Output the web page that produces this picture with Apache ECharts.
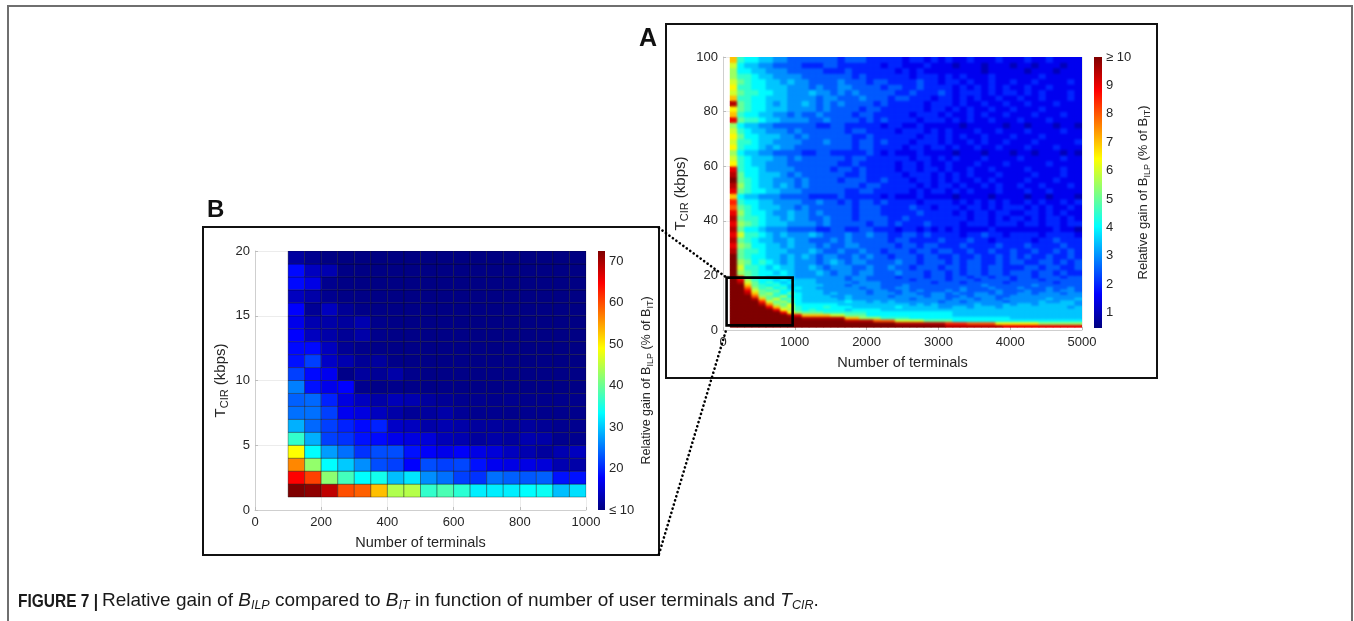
<!DOCTYPE html>
<html>
<head>
<meta charset="utf-8">
<script src="https://cdn.jsdelivr.net/npm/echarts@6/dist/echarts.min.js"></script>
<style>
  html, body { margin: 0; padding: 0; background: #ffffff; }
  #stage { position: relative; width: 1354px; height: 621px; }
  .layer { position: absolute; left: 0; top: 0; width: 1354px; height: 621px; }
  /* panel A uses interpolated shading: a softened copy of its cells sits over the plot area */
  #smoothClip { position: absolute; left: 730px; top: 57px; width: 352px; height: 270px; overflow: hidden; }
  #smooth { position: absolute; left: -730px; top: -57px; width: 1354px; height: 621px; filter: blur(1.2px); }
  #overlay { pointer-events: none; }
</style>
</head>
<body>
<div id="stage">
  <div id="chart" class="layer"></div>
  <div id="smoothClip"><div id="smooth"></div></div>
  <div id="overlay" class="layer"></div>
</div>
<script>
// ---------------------------------------------------------------------------
// Panel A: relative gain of B_ILP (% of B_IT), 100-5000 terminals, T_CIR 1-100 kbps
// Column edges (number of terminals) and row edges (T_CIR, kbps).
const aTerminalEdges = [100, 200, 300, 400, 500, 600, 700, 800, 900, 1000,
  1100, 1200, 1300, 1400, 1500, 1600, 1700, 1800, 1900, 2000,
  2100, 2200, 2300, 2400, 2500, 2600, 2700, 2800, 2900, 3000,
  3100, 3200, 3300, 3400, 3500, 3600, 3700, 3800, 3900, 4000,
  4100, 4200, 4300, 4400, 4500, 4600, 4700, 4800, 4900, 5000];
const aRateEdges = [1, 2, 3, 4, 5, 6, 7, 8, 9, 10, 11, 12, 13, 14, 15, 16, 17, 18, 19, 20,
  22, 24, 26, 28, 30, 32, 34, 36, 38, 40, 42, 44, 46, 48, 50, 52, 54, 56, 58, 60,
  62, 64, 66, 68, 70, 72, 74, 76, 78, 80, 82, 84, 86, 88, 90, 92, 94, 96, 98, 100];

// Gain levels: a = 0.5 %, b = 1 %, c = 1.5 % ... t = 10 % (shown as >= 10).
const GAIN_LEVELS = 'abcdefghijklmnopqrst';
// One string per T_CIR row, lowest row first; one letter per 100-terminal column.
const gainRowsA = [
  'tttttttttt tttttttttt tttttttttt ssssssssrr rrrrrrrrr', // 1-2
  'tttttttttt tttttttttt tttsssssss qqqppppmmm mmmkkkkkk', // 2-3
  'tttttttttt ttttttssss ppplllljjj jhhhhhhhhh hhhhhhhhh', // 3-4
  'tttttttttt ssssssnnkk kiiiihhhhh hhhhhhhhhg ggggggggg', // 4-5
  'ttttttttsr nnnnlljjjh hhhhhhhhhh hggggggggg ggggggggg', // 5-6
  'tttttttrmk jjjiiiiiih hhhhhhhhhh hggggggggg ggggggggg', // 6-7
  'ttttttrmki hihhhhghhh hggggggggg gggggggggg ggggggggg', // 7-8
  'tttttrnkli hhhihhhggg ggghgggggf fggfgggfgg gggggggfg', // 8-9
  'ttttsokjlh hhhhhggggg gggggfgfgf ffffgfffgf ggfgggggf', // 9-10
  'ttttqljkih gggggghggf gfgffffffe ffefffffef fffgffggf', // 10-11
  'tttsnjlijh gggggfgfff fffffeffff efffeffeff ffffgfffg', // 11-12
  'tttpkjikhh ggggffgfff ffeffffeff eefefffeef fffffffff', // 12-13
  'ttsnjkihjh gggfgffffe fffeffeeff efeeffefee ffefffeff', // 13-14
  'ttrljijhhg gggffffffe ffeefefeee fefeeeefee efeefeffe', // 14-15
  'ttpkijhigh ggffffffef feeffeeeee eefeeefeee feeefeefe', // 15-16
  'ttnjihihgg gggfffefff feeefeeeee eeeeefeeee eefeeeeee', // 16-17
  'tsljhihghg ggfffffeff feeeeeeede eedeeeeede eeeeedeee', // 17-18
  'trkihhghgg ggffffeffe eeeeedeeee deeedeeeed eeedeeeee', // 18-19
  'tqjihghggf ffffffeffe eeedeeedee deedeedeed eedeeedee', // 19-20
  'tkjihhghgf ffgfeffeff eeefeeedee dedeedeede eedeededd', // 20-22
  'tliihghggf fgfefffeef eefeedeeed eedeedeedd deedeedde', // 22-24
  'tkjhihgfgf ffefgfeffe eeefeedeee dedeeddede eddeedede', // 24-26
  'tjihhggfgf gfeffeefef eedeeedeed deddeddede deddedded', // 26-28
  'sjiihgggff fgfeefeefe edeeedeede eddeddedde ddeddeded', // 28-30
  'rkjhhggfgf ffefeeffee eeedeedeed ddeddddedd deddddedd', // 30-32
  'sjihggffgf feeefefeee eedeedddde dddeddcddd ddcddeddd', // 32-34
  'rliihgfgff fgfeeefeef eeddeededd ddcddeddcd dddcddddc', // 34-36
  'sjhhgfffee eeddeeddee dddcddcdcd cdccccdccc cccccdccb', // 36-38
  'rkjihgggff ffefeeeeed eededddedd ddcdddcddd cddcddcdd', // 38-40
  'sjiihggfgf feefeeedee eeddeddddd dddcddcdcd dcdcddcdc', // 40-42
  'rkihhgffgf fefeeeedee edddddeddd dcdcddcddc cddcdcdcc', // 42-44
  'pjihgggffe feeeeeedee eddddeddcd ddcddcdcdd dcdcdccdc', // 44-46
  'qihhggffff eefeededee deddddcddd dcdcdcdcdc cdcdccdcd', // 46-48
  'nhggfffeee eddddedddd dcdcccdccc cbccccbccc cbccbcccb', // 48-50
  'rjihhggfff eeeeeeddee dddddcdcdd cdcdcccdcc cdccdcccc', // 50-52
  'skihggfgfe feeeeeeede edddddcdcd dcdccdcdcc dccdcccdc', // 52-54
  'tjihggfffe feeeedeeed dedddcddcd cdccdcdccc cdcccdccc', // 54-56
  'sjhhgggfef eeeeeedded ddddcdddcd cdcdcccdcc ccdcccdcc', // 56-58
  'rihhgffffe eeeedeeded dddcddcddc dccdccdccc cdccccdcc', // 58-60
  'mihggfffee eeeeeddedd dddcddcdcc dcccdcccdc ccccdcccc', // 60-62
  'lihgggffef eeeeeedeed dddddcddcd cdcccdcccc dcccccdcc', // 62-64
  'khggffeeee ddeeddddde dcdcccdccc cbcccbcccb ccbcccbcb', // 64-66
  'mihhgfgffe eeeeeeedee ddddcddcdd cdccdccdcc cdcccdccc', // 66-68
  'liihggffff eeefeeedee dedddcdddc dccdcdccdc ccdcccccd', // 68-70
  'mjhhgggffe feeeeeedde ddddddcddc dcdccdcccd cccdccccc', // 70-72
  'lihggfffef eeeeeedeed dddcdddcdc dcccdccdcc cdccccdcc', // 72-74
  'khggffeeee eeddeedddd dcddccdccc ccbcccccbc cbcccbccb', // 74-76
  'rjiihggfff feefeeeede deddddcddd cdcdccdccc dcccdcccc', // 76-78
  'nihhggffef eefeeeedee dddddcdddc dccdcdccdc ccdcccdcc', // 78-80
  'mjihhgggff ffefeeeede eddddddcdd cdcdccdccd cccdccccc', // 80-82
  'sjihhgfgff gfefefeeee dedddddcdd dcdccdccdc cdcccdccc', // 82-84
  'niihhgggff ffeffeeefe eedeedddcd dcdcdccdcc dccdcccdc', // 84-86
  'ljiihhggff fgffefefee eeeddeddde dcdddcdcdd cdcdcccdc', // 86-88
  'miihhgggff fefeeffeee edeeddeddd dcdcdcdcdc cdccdcccc', // 88-90
  'ljihhggfgf feeeefeeed eeddddeddc ddcdccdccd ccdccccdc', // 90-92
  'kiihggffff eeeeeeeded dddddcdddc dcdcccdccc cccdccccc', // 92-94
  'khhggfffee eeedddeddd dddcdcdccc cccccbcccc cbcccbccc', // 94-96
  'lhggffeeee dddeeddddd dcddcccdcc cbcccbcccb ccbcccbcc', // 96-98
  'nihhggffee eeeeedeeed ddddcddcdc dccdcccdcc cdccdcccc'  // 98-100
];

// ---------------------------------------------------------------------------
// Panel B: close-up, 100-1000 terminals (50 per column), T_CIR 1-20 kbps
const bTerminalEdges = [100, 150, 200, 250, 300, 350, 400, 450, 500, 550,
  600, 650, 700, 750, 800, 850, 900, 950, 1000];
const bRateEdges = [1, 2, 3, 4, 5, 6, 7, 8, 9, 10, 11, 12, 13, 14, 15, 16, 17, 18, 19, 20];
// Gain (% of B_IT), lowest T_CIR row first.
const gainRowsB = [
  [72.4, 71.5, 68.5, 59.8, 58.7, 52.9, 44.2, 44.5, 36.5, 38.0, 36.0, 32.4, 32.4, 32.4, 33.4, 34.0, 29.5, 31.5],
  [64.6, 60.7, 42.0, 37.5, 33.4, 34.5, 29.5, 31.9, 26.5, 24.7, 21.7, 20.8, 24.7, 23.7, 23.2, 23.7, 18.8, 18.8],
  [56.3, 42.4, 33.4, 30.2, 26.5, 22.5, 21.7, 17.8, 22.5, 21.7, 22.1, 18.8, 16.9, 16.2, 16.2, 15.5, 13.0, 12.5],
  [49.0, 33.4, 27.4, 24.7, 20.8, 22.5, 22.5, 18.8, 17.5, 16.6, 17.5, 16.2, 15.5, 13.9, 13.0, 11.9, 13.0, 13.9],
  [36.5, 28.6, 21.7, 20.8, 18.8, 18.3, 16.6, 15.9, 15.5, 13.5, 13.0, 11.9, 12.5, 11.9, 13.0, 12.5, 11.0, 11.0],
  [28.6, 24.2, 21.7, 19.8, 18.3, 19.8, 14.4, 13.9, 12.5, 13.0, 12.5, 11.9, 11.9, 11.4, 11.9, 11.4, 11.0, 11.0],
  [24.7, 24.7, 21.7, 16.9, 15.9, 13.9, 12.5, 11.4, 11.9, 12.5, 11.4, 11.0, 11.0, 10.8, 11.0, 10.8, 10.8, 10.8],
  [23.7, 24.2, 19.8, 15.9, 13.9, 12.5, 13.5, 13.0, 11.9, 11.4, 11.0, 11.0, 10.8, 11.0, 10.8, 10.8, 10.8, 10.8],
  [25.6, 18.8, 16.6, 17.8, 11.0, 10.6, 10.8, 10.6, 10.5, 10.6, 10.5, 10.5, 10.5, 10.5, 10.4, 10.5, 10.4, 10.4],
  [21.7, 18.3, 16.9, 10.6, 11.9, 11.4, 12.5, 10.8, 10.5, 10.5, 10.5, 10.4, 10.5, 10.4, 10.4, 10.4, 10.4, 10.4],
  [18.8, 21.7, 14.4, 13.0, 11.4, 11.9, 10.6, 10.5, 10.5, 10.4, 10.5, 10.4, 10.4, 10.4, 10.3, 10.4, 10.3, 10.3],
  [18.3, 18.3, 13.9, 11.4, 10.8, 10.6, 10.5, 10.5, 10.4, 10.4, 10.4, 10.4, 10.3, 10.4, 10.3, 10.3, 10.3, 10.3],
  [17.8, 13.9, 12.5, 11.4, 12.5, 10.8, 10.5, 10.5, 10.4, 10.4, 10.4, 10.3, 10.3, 10.3, 10.3, 10.3, 10.3, 10.3],
  [16.6, 13.0, 12.5, 11.9, 13.0, 10.8, 10.5, 10.4, 10.4, 10.4, 10.3, 10.3, 10.3, 10.3, 10.3, 10.3, 10.3, 10.3],
  [17.8, 11.4, 13.9, 11.4, 10.6, 10.5, 10.4, 10.4, 10.3, 10.3, 10.3, 10.3, 10.3, 10.3, 10.3, 10.3, 10.3, 10.3],
  [13.9, 12.5, 11.0, 10.5, 10.4, 10.4, 10.3, 10.3, 10.3, 10.3, 10.3, 10.3, 10.3, 10.3, 10.3, 10.3, 10.3, 10.3],
  [18.3, 16.2, 11.0, 10.4, 10.3, 10.3, 10.3, 10.3, 10.3, 10.3, 10.3, 10.3, 10.3, 10.3, 10.3, 10.3, 10.3, 10.3],
  [18.3, 13.9, 13.0, 10.4, 10.3, 10.3, 10.3, 10.3, 10.3, 10.3, 10.3, 10.3, 10.3, 10.3, 10.3, 10.3, 10.3, 10.3],
  [12.0, 11.0, 10.3, 10.2, 10.2, 10.2, 10.2, 10.2, 10.2, 10.2, 10.2, 10.2, 10.2, 10.2, 10.2, 10.2, 10.2, 10.2]
];

// Colour scales and tick labels
const A_RANGE = [0.46, 10];
const B_RANGE = [10, 72.4];
const aBarTicks = [1, 2, 3, 4, 5, 6, 7, 8, 9, 10];
const bBarTicks = [10, 20, 30, 40, 50, 60, 70];
// Zoomed region of panel A that panel B enlarges (terminals, kbps)
const INSET = { x: [50, 970], y: [1.7, 19.2] };

// ---------------------------------------------------------------------------
const FONT = '"Liberation Sans", Arial, Helvetica, sans-serif';
const INK = '#262626';
const AXIS_GREY = '#cfcfcf';
const GRID_GREY = '#ececec';
const JET = ['#00007f', '#0000ff', '#007fff', '#00ffff', '#7fff7f',
  '#ffff00', '#ff7f00', '#ff0000', '#7f0000'];
const GRID_A = { left: 723, top: 57, width: 359, height: 273 };

function decodeRows(rows, colEdges, rowEdges) {
  const cells = [];
  rows.forEach(function (row, r) {
    const letters = row.replace(/\s+/g, '');
    for (let c = 0; c < letters.length; c++) {
      const v = (GAIN_LEVELS.indexOf(letters[c]) + 1) * 0.5;
      cells.push([colEdges[c], colEdges[c + 1], rowEdges[r], rowEdges[r + 1], v]);
    }
  });
  return cells;
}
function tableCells(rows, colEdges, rowEdges) {
  const cells = [];
  rows.forEach(function (row, r) {
    row.forEach(function (v, c) {
      cells.push([colEdges[c], colEdges[c + 1], rowEdges[r], rowEdges[r + 1], v]);
    });
  });
  return cells;
}
const aCells = decodeRows(gainRowsA, aTerminalEdges, aRateEdges);
const bCells = tableCells(gainRowsB, bTerminalEdges, bRateEdges);

function cellRenderer(edgeColor, edgeWidth) {
  return function (params, api) {
    const lo = api.coord([api.value(0), api.value(2)]);
    const hi = api.coord([api.value(1), api.value(3)]);
    const color = api.visual('color');
    return {
      type: 'rect',
      shape: { x: lo[0], y: hi[1], width: hi[0] - lo[0], height: lo[1] - hi[1] },
      style: { fill: color, stroke: edgeColor || color, lineWidth: edgeWidth }
    };
  };
}
function colorbarRenderer(params, api) {
  const lo = api.coord([0, api.value(0)]);
  const hi = api.coord([1, api.value(1)]);
  const stops = JET.map(function (c, i) { return { offset: i / (JET.length - 1), color: c }; });
  return {
    type: 'rect',
    shape: { x: lo[0], y: hi[1], width: hi[0] - lo[0], height: lo[1] - hi[1] },
    style: { fill: new echarts.graphic.LinearGradient(0, 1, 0, 0, stops) }
  };
}
function insetRenderer(params, api) {
  const tl = api.coord([api.value(0), api.value(3)]);
  const br = api.coord([api.value(1), api.value(2)]);
  const dot = { stroke: '#000', lineWidth: 2.6, lineDash: [0.1, 4.2], lineCap: 'round', fill: null };
  return {
    type: 'group',
    children: [
      { type: 'line', shape: { x1: 659, y1: 228, x2: tl[0], y2: tl[1] }, style: dot },
      { type: 'line', shape: { x1: 659, y1: 554, x2: tl[0], y2: br[1] + 3 }, style: dot },
      { type: 'rect', shape: { x: tl[0], y: tl[1], width: br[0] - tl[0], height: br[1] - tl[1] },
        style: { fill: null, stroke: '#000', lineWidth: 2.6 } }
    ]
  };
}

function subName(size) {
  const small = Math.round(size * 0.7);
  return {
    fontFamily: FONT, fontSize: size, color: INK,
    rich: {
      m: { fontFamily: FONT, fontSize: size, color: INK, lineHeight: size + 4 },
      s: { fontFamily: FONT, fontSize: small, color: INK,
           lineHeight: small, padding: [size + 4 - small, 0, 0, 0] }
    }
  };
}
function plainNumber(v) { return String(v); }

function mainX(gi, max, interval, name) {
  return {
    gridIndex: gi, type: 'value', min: 0, max: max, interval: interval,
    axisLine: { show: true, lineStyle: { color: AXIS_GREY, width: 1 } },
    axisTick: { show: true, inside: true, length: 3, lineStyle: { color: '#bdbdbd' } },
    axisLabel: { color: INK, fontFamily: FONT, fontSize: 13, margin: 6, formatter: plainNumber },
    splitLine: { show: true, lineStyle: { color: GRID_GREY } },
    name: name, nameLocation: 'middle', nameGap: 25,
    nameTextStyle: { color: INK, fontFamily: FONT, fontSize: 14.5 }
  };
}
function mainY(gi, max, interval, gap) {
  return {
    gridIndex: gi, type: 'value', min: 0, max: max, interval: interval,
    axisLine: { show: true, lineStyle: { color: AXIS_GREY, width: 1 } },
    axisTick: { show: true, inside: true, length: 3, lineStyle: { color: '#bdbdbd' } },
    axisLabel: { color: INK, fontFamily: FONT, fontSize: 13, margin: 5, formatter: plainNumber },
    splitLine: { show: true, lineStyle: { color: GRID_GREY } },
    name: '{m|T}{s|CIR}{m| (kbps)}', nameLocation: 'middle', nameGap: gap, nameRotate: 90,
    nameTextStyle: subName(15)
  };
}
function barX(gi) {
  return { gridIndex: gi, type: 'value', min: 0, max: 1, show: false };
}
function barY(gi, range, ticks, fmt, gap, nameSize) {
  return {
    gridIndex: gi, type: 'value', min: range[0], max: range[1], position: 'right',
    axisLine: { show: false }, axisTick: { show: false }, splitLine: { show: false },
    axisLabel: { customValues: ticks, formatter: fmt, color: INK, fontFamily: FONT, fontSize: 13, margin: 4 },
    name: '{m|Relative gain of B}{s|ILP}{m| (% of B}{s|IT}{m|)}',
    nameLocation: 'middle', nameGap: gap, nameRotate: 90,
    nameTextStyle: subName(nameSize)
  };
}
function visualA(seriesIndex) {
  return { type: 'continuous', show: false, seriesIndex: seriesIndex, dimension: 4,
    min: A_RANGE[0], max: A_RANGE[1], inRange: { color: JET } };
}
function hiddenAxesA() {
  return {
    grid: [GRID_A],
    xAxis: [{ type: 'value', min: 0, max: 5000, show: false }],
    yAxis: [{ type: 'value', min: 0, max: 100, show: false }]
  };
}

const CAP = '#1a1a1a';
const captionRich = {
  r: { fontFamily: FONT, fontSize: 19, color: CAP, lineHeight: 22 },
  i: { fontFamily: FONT, fontSize: 19, fontStyle: 'italic', color: CAP, lineHeight: 22 },
  is: { fontFamily: FONT, fontSize: 12.5, fontStyle: 'italic', color: CAP, lineHeight: 12, padding: [10, 0, 0, 0] }
};

// ---- main figure ----------------------------------------------------------
const chart = echarts.init(document.getElementById('chart'), null, { renderer: 'canvas' });
chart.setOption({
  animation: false,
  backgroundColor: '#ffffff',
  grid: [
    GRID_A,
    { left: 1094, top: 57, width: 8, height: 271 },
    { left: 255, top: 251, width: 331, height: 259 },
    { left: 598, top: 251, width: 7, height: 259 }
  ],
  xAxis: [
    mainX(0, 5000, 1000, 'Number of terminals'),
    barX(1),
    mainX(2, 1000, 200, 'Number of terminals'),
    barX(3)
  ],
  yAxis: [
    mainY(0, 100, 20, 33),
    barY(1, A_RANGE, aBarTicks, function (v) { return v >= 10 ? '\u2265 10' : String(v); }, 30, 13),
    mainY(2, 20, 5, 25),
    barY(3, B_RANGE, bBarTicks, function (v) { return v <= 10 ? '\u2264 10' : String(v); }, 32, 12.5)
  ],
  visualMap: [
    visualA(0),
    { type: 'continuous', show: false, seriesIndex: 2, dimension: 4,
      min: B_RANGE[0], max: B_RANGE[1], inRange: { color: JET } }
  ],
  series: [
    { type: 'custom', name: 'gainA', xAxisIndex: 0, yAxisIndex: 0,
      renderItem: cellRenderer(null, 0.7), encode: { x: [0, 1], y: [2, 3] }, data: aCells, clip: true },
    { type: 'custom', name: 'barA', xAxisIndex: 1, yAxisIndex: 1,
      renderItem: colorbarRenderer, encode: { y: [0, 1] }, data: [A_RANGE] },
    { type: 'custom', name: 'gainB', xAxisIndex: 2, yAxisIndex: 2,
      renderItem: cellRenderer('rgba(0,0,0,0.55)', 0.6), encode: { x: [0, 1], y: [2, 3] }, data: bCells, clip: true },
    { type: 'custom', name: 'barB', xAxisIndex: 3, yAxisIndex: 3,
      renderItem: colorbarRenderer, encode: { y: [0, 1] }, data: [B_RANGE] }
  ],
  graphic: [
    // page border
    { type: 'polyline', shape: { points: [[8, 621], [8, 6], [1352, 6], [1352, 621]] },
      style: { stroke: '#6f6f6f', lineWidth: 2, fill: null }, silent: true },
    // panel frames
    { type: 'rect', shape: { x: 666, y: 24, width: 491, height: 354 },
      style: { fill: null, stroke: '#111', lineWidth: 2 } },
    { type: 'rect', shape: { x: 203, y: 227, width: 456, height: 328 },
      style: { fill: null, stroke: '#111', lineWidth: 2 } },
    // panel letters
    { type: 'text', x: 639, y: 27, style: { text: 'A', font: 'bold 25px ' + FONT, fill: '#111' } },
    { type: 'text', x: 207, y: 198, style: { text: 'B', font: 'bold 24px ' + FONT, fill: '#111' } },
    // caption
    { type: 'text', x: 18, y: 593, scaleX: 0.86,
      style: { text: 'FIGURE 7 |', font: 'bold 18px ' + FONT, fill: CAP } },
    { type: 'text', x: 102, y: 590,
      style: {
        text: '{r|Relative gain of }{i|B}{is|ILP}{r| compared to }{i|B}{is|IT}' +
              '{r| in function of number of user terminals and }{i|T}{is|CIR}{r|.}',
        rich: captionRich, fill: CAP, font: '19px ' + FONT
      } }
  ]
});

// ---- softened copy of panel A's cells (interpolated look) -----------------
const smooth = echarts.init(document.getElementById('smooth'), null, { renderer: 'canvas' });
smooth.setOption(Object.assign(hiddenAxesA(), {
  animation: false,
  visualMap: [visualA(0)],
  series: [{ type: 'custom', renderItem: cellRenderer(null, 0.7),
    encode: { x: [0, 1], y: [2, 3] }, data: aCells, clip: true }]
}));

// ---- zoom marker on panel A, drawn above everything -----------------------
const overlay = echarts.init(document.getElementById('overlay'), null, { renderer: 'canvas' });
overlay.setOption(Object.assign(hiddenAxesA(), {
  animation: false,
  series: [{ type: 'custom', renderItem: insetRenderer, encode: { x: [0, 1], y: [2, 3] },
    data: [[INSET.x[0], INSET.x[1], INSET.y[0], INSET.y[1]]] }]
}));
</script>
</body>
</html>
